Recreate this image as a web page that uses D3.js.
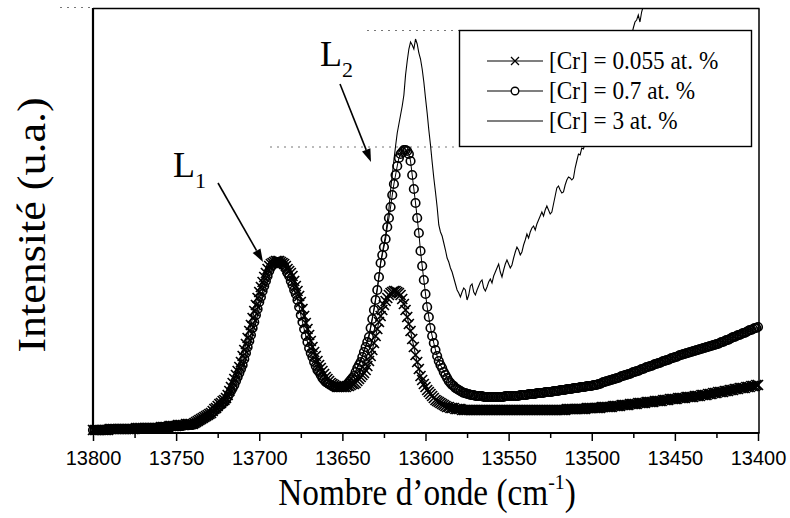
<!DOCTYPE html>
<html><head><meta charset="utf-8">
<script src="https://cdn.jsdelivr.net/npm/d3@7"></script>
<style>body{margin:0;background:#fff}svg{display:block}</style>
</head><body>
<svg id="chart" width="790" height="518"></svg>
<script>
// ---------- data ----------
const majorTicks = [13800,13750,13700,13650,13600,13550,13500,13450,13400];
const minorTicks = [13775,13725,13675,13625,13575,13525,13475,13425];
const legendLabels = ["[Cr] = 0.055 at. %", "[Cr] = 0.7 at. %", "[Cr] = 3 at. %"];
const peakLabels = ["1", "2"];
const xTitle = "Nombre d\u2019onde (cm";
const yTitle = "Intensité (u.a.)";

// wavenumber grid (cm-1), one point per cm-1
const wnMarkers = d3.range(13800, 13399, -1);
const wn3 = d3.range(13800, 13463, -1);

// [Cr] = 0.055 at.% (crosses), 13800 -> 13400
const cr055 = [
3,3,3,3,3,3,3,3,3,3,
4,4,4,4,4,4,4,4,4,4,4,4,4,4,4,4,
5,5,5,5,5,5,5,5,5,5,5,5,5,5,5,
6,6,6,6,6,7,7,7,7,7,8,8,8,8,8,9,9,9,9,9,
10,11,12,13,14,15,16,17,18,19,
20,22,24,25,27,29,30,32,33,35,
38,42,46,50,54,58,62,66,71,77,
83,89,95,102,108,115,122,128,135,141,
146,151,156,160,164,167,169,170,171,172,
172,172,171,170,169,167,164,162,160,157,
152,147,142,137,131,124,117,110,104,98,
92,86,81,77,72,68,65,62,59,56,
54,52,50,49,48,47,46,46,46,46,
46,46,47,47,48,49,49,50,52,54,
56,58,60,63,67,72,77,83,90,97,
104,111,117,123,128,132,135,138,140,141,
142,142,141,140,138,134,129,123,116,109,
102,94,86,78,71,64,57,53,49,46,
43,41,39,37,35,33,32,31,30,29,
28,27,26,26,25,25,25,24,24,24,
24,23,23,23,23,23,23,23,23,23,
23,23,23,23,23,23,23,23,23,23,
23,23,23,23,23,23,23,23,23,23,
23,23,23,23,23,23,23,23,23,23,
23,23,23,23,23,23,23,23,23,23,
23,23,23,23,23,23,23,23,23,23,
23,23,23,23,24,24,24,24,24,24,
24,24,24,24,24,24,25,25,25,25,
25,25,25,25,25,26,26,26,26,26,
26,26,27,27,27,27,27,28,28,28,
28,28,29,29,29,29,29,30,30,30,
30,30,31,31,31,31,31,32,32,32,
32,32,33,33,33,33,34,34,34,34,
34,35,35,35,35,35,36,36,36,36,
36,37,37,37,37,38,38,38,38,39,
39,39,40,40,40,41,41,41,41,42,
42,42,43,43,43,44,44,44,45,45,
45,45,46,46,46,47,47,47,48,48
];

// [Cr] = 0.7 at.% (circles), 13800 -> 13400
const cr07 = [
3,3,3,3,3,3,3,3,3,3,
4,4,4,4,4,4,4,4,4,4,4,4,4,4,4,4,4,4,4,4,
5,5,5,5,5,5,5,5,5,5,5,
6,6,6,6,6,6,6,7,7,7,7,7,7,7,8,8,8,8,8,8,
9,10,11,12,13,14,15,16,17,18,
19,21,22,24,25,27,28,30,31,33,
36,39,42,45,48,52,56,60,64,68,
74,80,86,92,98,105,111,118,124,131,
136,142,147,152,157,162,166,168,170,171,
171,171,170,169,167,164,160,157,152,148,
143,139,133,126,118,111,104,97,91,85,
80,76,71,67,63,61,58,55,53,51,
50,49,48,47,46,46,46,46,46,46,
47,47,49,51,53,55,57,61,65,68,
71,76,81,86,91,96,105,114,123,133,
143,156,170,178,186,194,206,215,226,238,
249,258,267,275,279,281,283,283,282,279,
272,258,244,230,215,200,182,167,153,139,
126,116,105,97,90,83,77,72,68,65,
61,58,55,52,50,48,47,45,44,43,
42,41,40,40,39,39,38,38,38,37,
37,37,37,37,36,36,36,36,36,36,
36,36,36,36,36,36,36,37,37,37,
37,37,37,37,37,37,38,38,38,38,
38,39,39,39,39,39,40,40,40,40,
40,41,41,41,41,41,42,42,42,42,
43,43,43,43,44,44,44,44,45,45,
45,45,46,46,46,46,47,47,47,47,
48,48,48,49,49,50,51,51,52,52,
53,53,54,54,55,55,56,57,57,58,
58,59,59,60,61,61,62,62,63,64,
64,65,66,66,67,67,68,69,69,70,
70,71,72,72,73,73,74,75,75,76,
76,77,78,78,79,79,80,80,81,81,
82,82,83,83,84,84,85,85,86,86,
87,87,88,88,89,89,90,91,91,92,
93,93,94,95,96,96,97,98,98,99,
100,100,101,102,103,103,104,105,105,106
];

// [Cr] = 3 at.% (solid line), 13800 -> 13464
const cr3 = [
3,4,3,3,4,3,3,4,3,4,
4,5,4,4,5,4,4,4,5,4,4,5,4,4,4,5,4,5,4,5,
5,5,6,5,5,6,5,5,6,5,6,
6,7,6,6,7,7,6,7,7,8,7,7,8,8,7,8,9,8,8,9,
9,9,10,11,12,13,14,15,16,17,
18,19,21,22,24,25,27,28,30,31,
33,36,39,42,45,48,52,56,60,64,
68,74,80,86,92,98,105,111,118,124,
131,136,142,147,152,157,162,166,168,170,
172,173,171,170,171,168,166,164,160,156,
153,149,144,139,134,126,119,112,105,98,
92,86,81,77,72,67,63,61,58,55,
53,51,50,49,48,47,47,46,48,47,
48,46,49,52,53,57,58,62,66,69,
74,77,83,87,93,98,106,115,124,135,
145,157,170,180,189,198,211,224,243,258,
273,287,300,309,318,327,338,358,372,384,
391,388,384,394,389,380,374,364,351,335,
320,303,288,271,255,241,226,208,201,197,
190,183,175,171,165,161,155,149,143,140,
136,141,145,143,133,138,147,149,141,138,
143,147,151,153,145,142,146,151,154,150,
157,161,165,169,161,156,163,169,173,169,
165,168,175,181,186,183,178,181,188,193,
199,195,201,205,207,203,209,213,217,221,
217,223,227,223,219,221,229,237,245,247,
243,240,241,248,253,256,255,253,255,265,
272,279,278,285,284,290,293,297,300,303,
306,309,312,315,318,321,324,327,330,333,
337,341,345,349,353,357,362,367,372,377,
382,387,392,398,405,411,413,418,411,421,
427,431,437,443,449,455
];

// ---------- drawing ----------
const svg = d3.select("#chart");
const serif = "'Liberation Serif','Times New Roman',Times,serif";
const sans = "'Liberation Sans',Arial,Helvetica,sans-serif";

const pLeft = 93, pRight = 758, pTop = 8.5, pBottom = 433;
const x = d3.scaleLinear().domain([13800, 13400]).range([pLeft, pRight]);
const y = d3.scaleLinear().domain([0, 424.5]).range([pBottom, pTop]);

svg.append("defs").append("clipPath").attr("id", "plotClip")
  .append("rect").attr("x", pLeft).attr("y", pTop).attr("width", pRight - pLeft + 2).attr("height", pBottom - pTop);

// faint dotted scan guides
const dotted = svg.append("g").attr("stroke", "#777").attr("stroke-width", 1).attr("stroke-dasharray", "2,5");
dotted.append("line").attr("x1", 60).attr("x2", pLeft - 2).attr("y1", 7.5).attr("y2", 7.5);
dotted.append("line").attr("x1", 367).attr("x2", 459).attr("y1", 30.5).attr("y2", 30.5);
dotted.append("line").attr("x1", 270).attr("x2", 459).attr("y1", 147).attr("y2", 147);

const line = d3.line().x(d => x(d[0])).y(d => y(d[1]));

const s3 = wn3.slice(0, cr3.length).map((w, i) => [w, cr3[i]]);
const s1 = wnMarkers.slice(0, cr055.length).map((w, i) => [w, cr055[i]]);
const s2 = wnMarkers.slice(0, cr07.length).map((w, i) => [w, cr07[i]]);

// 3 at.% solid curve
svg.append("path").datum(s3).attr("clip-path", "url(#plotClip)")
  .attr("d", line).attr("fill", "none").attr("stroke", "#000").attr("stroke-width", 1.1);

// 0.055 at.% crosses
svg.append("path").datum(s1).attr("d", line).attr("fill", "none").attr("stroke", "#000").attr("stroke-width", 1);
const crossPath = "M-5,-5L5,5M-5,5L5,-5";
svg.append("g").selectAll("path").data(s1).join("path")
  .attr("transform", d => `translate(${x(d[0])},${y(d[1])})`)
  .attr("d", crossPath).attr("stroke", "#000").attr("stroke-width", 1.7).attr("fill", "none");

// 0.7 at.% circles
svg.append("path").datum(s2).attr("d", line).attr("fill", "none").attr("stroke", "#000").attr("stroke-width", 1);
svg.append("g").selectAll("circle").data(s2).join("circle")
  .attr("cx", d => x(d[0])).attr("cy", d => y(d[1])).attr("r", 4.3)
  .attr("fill", "none").attr("stroke", "#000").attr("stroke-width", 1.6);

// axes
const gx = svg.append("g").attr("transform", `translate(0,${pBottom})`)
  .call(d3.axisBottom(x).tickValues(majorTicks).tickSize(8).tickPadding(10).tickFormat(d3.format("d")));
gx.select(".domain").remove();
gx.selectAll("line").attr("stroke", "#000").attr("stroke-width", 1.5);
gx.selectAll("text").attr("font-family", sans).attr("font-size", 20).attr("fill", "#000");
const gxm = svg.append("g").attr("transform", `translate(0,${pBottom})`)
  .call(d3.axisBottom(x).tickValues(minorTicks).tickSize(5).tickFormat(""));
gxm.select(".domain").remove();
gxm.selectAll("line").attr("stroke", "#000").attr("stroke-width", 1.5);

// frame
svg.append("line").attr("x1", pLeft).attr("x2", pRight + 1.5).attr("y1", pTop).attr("y2", pTop).attr("stroke", "#000").attr("stroke-width", 1.5);
svg.append("line").attr("x1", pRight + 1).attr("x2", pRight + 1).attr("y1", pTop).attr("y2", pBottom).attr("stroke", "#000").attr("stroke-width", 1.5);
svg.append("line").attr("x1", pLeft).attr("x2", pLeft).attr("y1", pTop - 0.5).attr("y2", pBottom + 1).attr("stroke", "#000").attr("stroke-width", 2.2);
svg.append("line").attr("x1", pLeft - 1).attr("x2", pRight + 1.5).attr("y1", pBottom).attr("y2", pBottom).attr("stroke", "#000").attr("stroke-width", 2);

// axis titles
const xt = svg.append("text").attr("transform", "translate(427,505) scale(0.9,1)").attr("text-anchor", "middle")
  .attr("font-family", serif).attr("font-size", 37).attr("fill", "#000");
xt.append("tspan").text(xTitle);
xt.append("tspan").attr("font-size", 22).attr("dy", -16).text("-1");
xt.append("tspan").attr("dy", 16).text(")");

svg.append("text").attr("transform", "translate(45,225) rotate(-90) scale(1,0.93)").attr("text-anchor", "middle")
  .attr("font-family", serif).attr("font-size", 44).attr("fill", "#000").text(yTitle);

// legend
const lg = svg.append("g");
lg.append("rect").attr("x", 459.5).attr("y", 30.5).attr("width", 292).attr("height", 116)
  .attr("fill", "#fff").attr("stroke", "#000").attr("stroke-width", 1.4);
const rowsY = [61, 91, 121];
legendLabels.forEach((lab, i) => {
  const ry = rowsY[i];
  lg.append("line").attr("x1", 487).attr("x2", 543).attr("y1", ry).attr("y2", ry).attr("stroke", "#000").attr("stroke-width", 1.2);
  if (i === 0) lg.append("path").attr("transform", `translate(515,${ry}) scale(0.8)`).attr("d", crossPath).attr("stroke", "#000").attr("stroke-width", 1.6);
  if (i === 1) lg.append("circle").attr("cx", 515).attr("cy", ry).attr("r", 3.8).attr("fill", "#fff").attr("stroke", "#000").attr("stroke-width", 1.4);
  lg.append("text").attr("transform", `translate(549,${ry + 8}) scale(0.93,1)`)
    .attr("font-family", serif).attr("font-size", 25).attr("fill", "#000").text(lab);
});

// peak annotations
const ann = [
  {lx: 173, ly: 177, x1: 218, y1: 183, x2: 263, y2: 262},
  {lx: 320, ly: 66, x1: 340, y1: 84, x2: 371, y2: 162}
];
ann.forEach((a, i) => {
  const t = svg.append("text").attr("x", a.lx).attr("y", a.ly).attr("font-family", serif).attr("font-size", 36).attr("fill", "#000");
  t.append("tspan").text("L");
  t.append("tspan").attr("font-size", 22).attr("dy", 11).text(peakLabels[i]);
  const ang = Math.atan2(a.y2 - a.y1, a.x2 - a.x1);
  const hl = 13, hw = 4.5;
  const bx = a.x2 - hl * Math.cos(ang), by = a.y2 - hl * Math.sin(ang);
  svg.append("line").attr("x1", a.x1).attr("y1", a.y1).attr("x2", bx).attr("y2", by).attr("stroke", "#000").attr("stroke-width", 1.6);
  const px = -Math.sin(ang), py = Math.cos(ang);
  svg.append("path").attr("d", `M${a.x2},${a.y2}L${bx + hw * px},${by + hw * py}L${bx - hw * px},${by - hw * py}Z`).attr("fill", "#000");
});
</script>
</body></html>
